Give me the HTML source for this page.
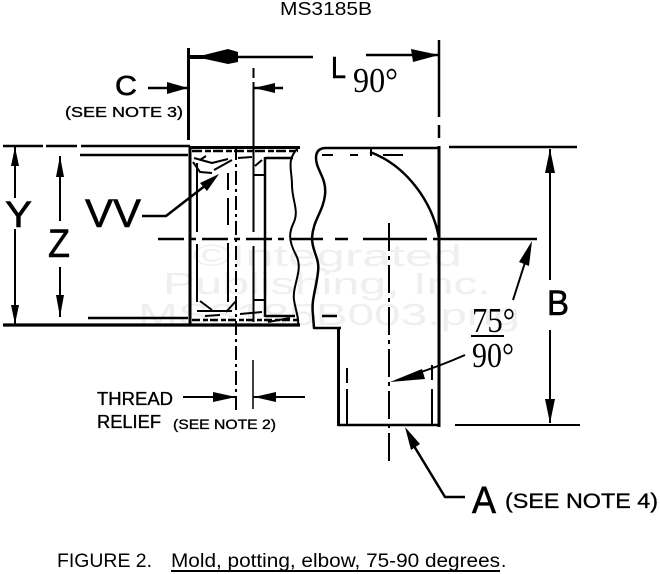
<!DOCTYPE html>
<html><head><meta charset="utf-8"><style>
html,body{margin:0;padding:0;background:#fff;}
svg{display:block;}
</style></head><body>
<svg width="660" height="574" viewBox="0 0 660 574" xmlns="http://www.w3.org/2000/svg">
<rect width="660" height="574" fill="#fff"/>

<!-- faint watermark -->
<g fill="#efefef" font-family="Liberation Sans, Arial, sans-serif" font-size="31">
<text x="193" y="266" textLength="269" lengthAdjust="spacingAndGlyphs">©Integrated</text>
<text x="163" y="294" textLength="328" lengthAdjust="spacingAndGlyphs">Publishing, Inc.</text>
<text x="138" y="325" textLength="382" lengthAdjust="spacingAndGlyphs">MS3185B003.png</text>
</g>

<g stroke="#000" fill="none" stroke-linecap="butt" stroke-linejoin="round">
<!-- top dimension L -->
<line x1="188.5" y1="48" x2="188.5" y2="140" stroke-width="3"/>
<line x1="188" y1="57" x2="313" y2="57" stroke-width="2.5"/>
<line x1="190" y1="57" x2="208" y2="57" stroke-width="4"/>
<line x1="366" y1="55" x2="439" y2="55" stroke-width="2.5"/>
<line x1="439" y1="40" x2="439" y2="117" stroke-width="2.5"/>
<line x1="439" y1="125" x2="439" y2="138" stroke-width="2.5"/>
<line x1="439" y1="146" x2="439" y2="427" stroke-width="3"/>

<!-- C dimension -->
<line x1="253.5" y1="68" x2="253.5" y2="78" stroke-width="2"/>
<line x1="253.5" y1="82" x2="253.5" y2="232" stroke-width="2"/>
<line x1="253.5" y1="246" x2="253.5" y2="322" stroke-width="2"/>
<line x1="148" y1="88" x2="188" y2="88" stroke-width="2.5"/>
<line x1="254" y1="88" x2="283" y2="88" stroke-width="2.5"/>

<!-- left extension lines -->
<line x1="3" y1="146" x2="43" y2="146" stroke-width="2.5"/>
<line x1="46" y1="146" x2="77" y2="146" stroke-width="2.5"/>
<line x1="81" y1="146" x2="190" y2="146" stroke-width="2.5"/>
<line x1="80" y1="155" x2="188" y2="155" stroke-width="2.5"/>
<line x1="3" y1="325" x2="300" y2="325" stroke-width="3.2"/>
<line x1="88" y1="318" x2="188" y2="318" stroke-width="2.5"/>

<!-- Y dim -->
<line x1="15" y1="147" x2="15" y2="198" stroke-width="2"/>
<line x1="15" y1="229" x2="15" y2="324" stroke-width="2"/>
<!-- Z dim -->
<line x1="60" y1="156" x2="60" y2="221" stroke-width="2"/>
<line x1="60" y1="267" x2="60" y2="317" stroke-width="2"/>

<!-- body left -->
<line x1="190" y1="146" x2="190" y2="326" stroke-width="3"/>
<line x1="190" y1="147.5" x2="300" y2="147.5" stroke-width="3"/>
<line x1="197" y1="163" x2="197" y2="232" stroke-width="2"/>
<line x1="197" y1="244" x2="197" y2="302" stroke-width="2"/>
<line x1="228" y1="173" x2="228" y2="190" stroke-width="2"/>
<line x1="228" y1="198" x2="228" y2="225" stroke-width="2"/>
<line x1="228" y1="243" x2="228" y2="302" stroke-width="2"/>
<line x1="236" y1="146" x2="236" y2="410" stroke-width="2" stroke-dasharray="14 4 3 4"/>
<line x1="265" y1="157" x2="265" y2="317" stroke-width="2.5"/>
<line x1="265" y1="158" x2="293" y2="158" stroke-width="2.5"/>
<line x1="265" y1="316" x2="295" y2="316" stroke-width="2.5"/>
<line x1="253" y1="175" x2="265" y2="175" stroke-width="2"/>
<line x1="253" y1="300" x2="265" y2="300" stroke-width="2"/>

<!-- hatching top band -->
<line x1="192" y1="151" x2="298" y2="151" stroke-width="2.5" stroke-dasharray="10 3 6 2"/>
<path d="M194,158 L212,163 L228,159" stroke-width="2"/>
<path d="M193,162 L200,172 L212,173" stroke-width="2"/>
<path d="M214,170 L232,160" stroke-width="2"/>
<path d="M238,158 L252,157" stroke-width="2"/>
<path d="M255,166 L262,160" stroke-width="2"/>
<path d="M200,160 L206,156" stroke-width="2"/>
<!-- hatching bottom band -->
<line x1="192" y1="320" x2="298" y2="320" stroke-width="2.5" stroke-dasharray="8 3 5 2"/>
<path d="M197,311 L232,311" stroke-width="2"/>
<path d="M200,301 L212,310" stroke-width="2"/>
<path d="M236,301 L226,312" stroke-width="2"/>
<path d="M240,314 L262,312" stroke-width="2"/>
<path d="M268,322 L290,318" stroke-width="2"/>
<path d="M205,316 L220,315" stroke-width="2"/>

<!-- wavy break lines -->
<path d="M298,148 C286,160 292,170 292,185 C292,200 299,210 294,222 C289,232 288,240 296,255 C304,270 292,285 294,300 C296,312 299,318 298,325" stroke-width="2"/>
<path d="M439,148 L326,148 Q316,148 316,158 C316,170 327,178 325,195 C323,212 313,220 312,238 C312,252 320,258 318,272 C316,290 311,300 313,315 L314,328 L341,328" stroke-width="2.5"/>

<!-- elbow -->
<line x1="322" y1="155" x2="333" y2="155" stroke-width="2"/>
<line x1="350" y1="155" x2="358" y2="155" stroke-width="2"/>
<line x1="383" y1="155" x2="403" y2="155" stroke-width="2"/>
<path d="M370,152 C405,165 432,200 439,238" stroke-width="2.5"/>
<line x1="371" y1="148" x2="371" y2="156" stroke-width="2"/>

<!-- center line horizontal -->
<line x1="158" y1="239" x2="300" y2="239" stroke-width="2.5" stroke-dasharray="26 6 6 6"/>
<line x1="300" y1="239" x2="323" y2="239" stroke-width="2.5"/>
<line x1="335" y1="239" x2="348" y2="239" stroke-width="2.5"/>
<line x1="363" y1="239" x2="427" y2="239" stroke-width="2.5"/>
<line x1="433" y1="239" x2="537" y2="239" stroke-width="2.5"/>

<!-- leg -->
<line x1="338.5" y1="328" x2="338.5" y2="426" stroke-width="3"/>
<line x1="338" y1="425" x2="440" y2="425" stroke-width="2.5"/>
<line x1="322" y1="316" x2="337" y2="316" stroke-width="2.5"/>
<line x1="347" y1="368" x2="347" y2="383" stroke-width="2"/>
<line x1="347" y1="389" x2="347" y2="424" stroke-width="2"/>
<line x1="432" y1="365" x2="432" y2="380" stroke-width="2"/>
<line x1="432" y1="389" x2="432" y2="424" stroke-width="2"/>
<line x1="389" y1="223" x2="389" y2="463" stroke-width="2" stroke-dasharray="28 5 4 5"/>

<!-- right extension lines and B -->
<line x1="449" y1="147" x2="577" y2="147" stroke-width="2.5"/>
<line x1="455" y1="425" x2="580" y2="425" stroke-width="2"/>
<line x1="550" y1="149" x2="550" y2="280" stroke-width="2"/>
<line x1="550" y1="330" x2="550" y2="423" stroke-width="2"/>

<!-- angle arrows -->
<path d="M513,300 Q522,272 529,250" stroke-width="2"/>
<path d="M465,355 Q440,366 415,374" stroke-width="2"/>
<!-- A leader -->
<path d="M414,446 L445,497 L465,497" stroke-width="2.5"/>

<!-- thread relief -->
<line x1="253" y1="360" x2="253" y2="409" stroke-width="1.5"/>
<line x1="183" y1="397" x2="236" y2="397" stroke-width="2"/>
<line x1="253" y1="397" x2="305" y2="397" stroke-width="2"/>

<!-- VV leader -->
<path d="M142,216 L166,216 L206,185" stroke-width="2.5"/>

<!-- fraction bar -->
<line x1="471" y1="336" x2="504" y2="336" stroke-width="2"/>
<!-- caption underline -->
<line x1="171" y1="571" x2="500" y2="571" stroke-width="2"/>
</g>

<!-- arrowheads -->
<g fill="#000" stroke="none">
<polygon points="196,57 228,49 238,52 238,62 228,64"/>
<polygon points="439,55 411,49 413,62"/>
<polygon points="188,88 167,82 167,94"/>
<polygon points="254,88 275,83 275,93"/>
<polygon points="15,147 11,166 19,166"/>
<polygon points="15,324 11,305 19,305"/>
<polygon points="60,156 56,177 64,177"/>
<polygon points="60,317 56,295 64,295"/>
<polygon points="550,149 545,173 555,173"/>
<polygon points="550,423 545,399 555,399"/>
<polygon points="532,241 519,262 529,266"/>
<polygon points="390,382 422,369 425,379"/>
<polygon points="405,427 411,450 420,444"/>
<polygon points="236,397 213,392 213,402"/>
<polygon points="254,397 276,392 276,402"/>
<polygon points="219,174 200,183 207,191"/>
</g>

<!-- text -->
<g fill="#000" font-family="Liberation Sans, Arial, sans-serif">
<text x="280" y="15" font-size="18" textLength="92" lengthAdjust="spacingAndGlyphs">MS3185B</text>
<g stroke="#000" stroke-width="0.6">
<text x="115" y="95" font-size="28" textLength="22" lengthAdjust="spacingAndGlyphs">C</text>
<text x="331" y="78" font-size="31" textLength="15" lengthAdjust="spacingAndGlyphs">L</text>
<text x="5" y="227" font-size="37" textLength="27" lengthAdjust="spacingAndGlyphs">Y</text>
<text x="48" y="257" font-size="40" textLength="22" lengthAdjust="spacingAndGlyphs">Z</text>
<text x="85" y="227" font-size="40" textLength="56" lengthAdjust="spacingAndGlyphs">VV</text>
<text x="547" y="315" font-size="35" textLength="22" lengthAdjust="spacingAndGlyphs">B</text>
<text x="472" y="513" font-size="38" textLength="24" lengthAdjust="spacingAndGlyphs">A</text>
</g>
<g stroke="#000" stroke-width="0.35">
<text x="65" y="117" font-size="15" textLength="118" lengthAdjust="spacingAndGlyphs">(SEE NOTE 3)</text>
<text x="97" y="405" font-size="18" textLength="76" lengthAdjust="spacingAndGlyphs">THREAD</text>
<text x="97" y="428" font-size="18" textLength="64" lengthAdjust="spacingAndGlyphs">RELIEF</text>
<text x="173" y="429" font-size="14" textLength="103" lengthAdjust="spacingAndGlyphs">(SEE NOTE 2)</text>
<text x="505" y="508" font-size="21" textLength="153" lengthAdjust="spacingAndGlyphs">(SEE NOTE 4)</text>
</g>
<text x="57" y="567" font-size="19" textLength="95" lengthAdjust="spacingAndGlyphs">FIGURE 2.</text>
<text x="171" y="567" font-size="19" textLength="329" lengthAdjust="spacingAndGlyphs">Mold, potting, elbow, 75-90 degrees</text>
<text x="501" y="567" font-size="19">.</text>
</g>
<g fill="#000" font-family="Liberation Serif, Times New Roman, serif">
<text x="353" y="92" font-size="35" textLength="45" lengthAdjust="spacingAndGlyphs">90°</text>
<text x="472" y="332" font-size="35" textLength="43" lengthAdjust="spacingAndGlyphs">75°</text>
<text x="472" y="367" font-size="35" textLength="42" lengthAdjust="spacingAndGlyphs">90°</text>
</g>
</svg>
</body></html>
